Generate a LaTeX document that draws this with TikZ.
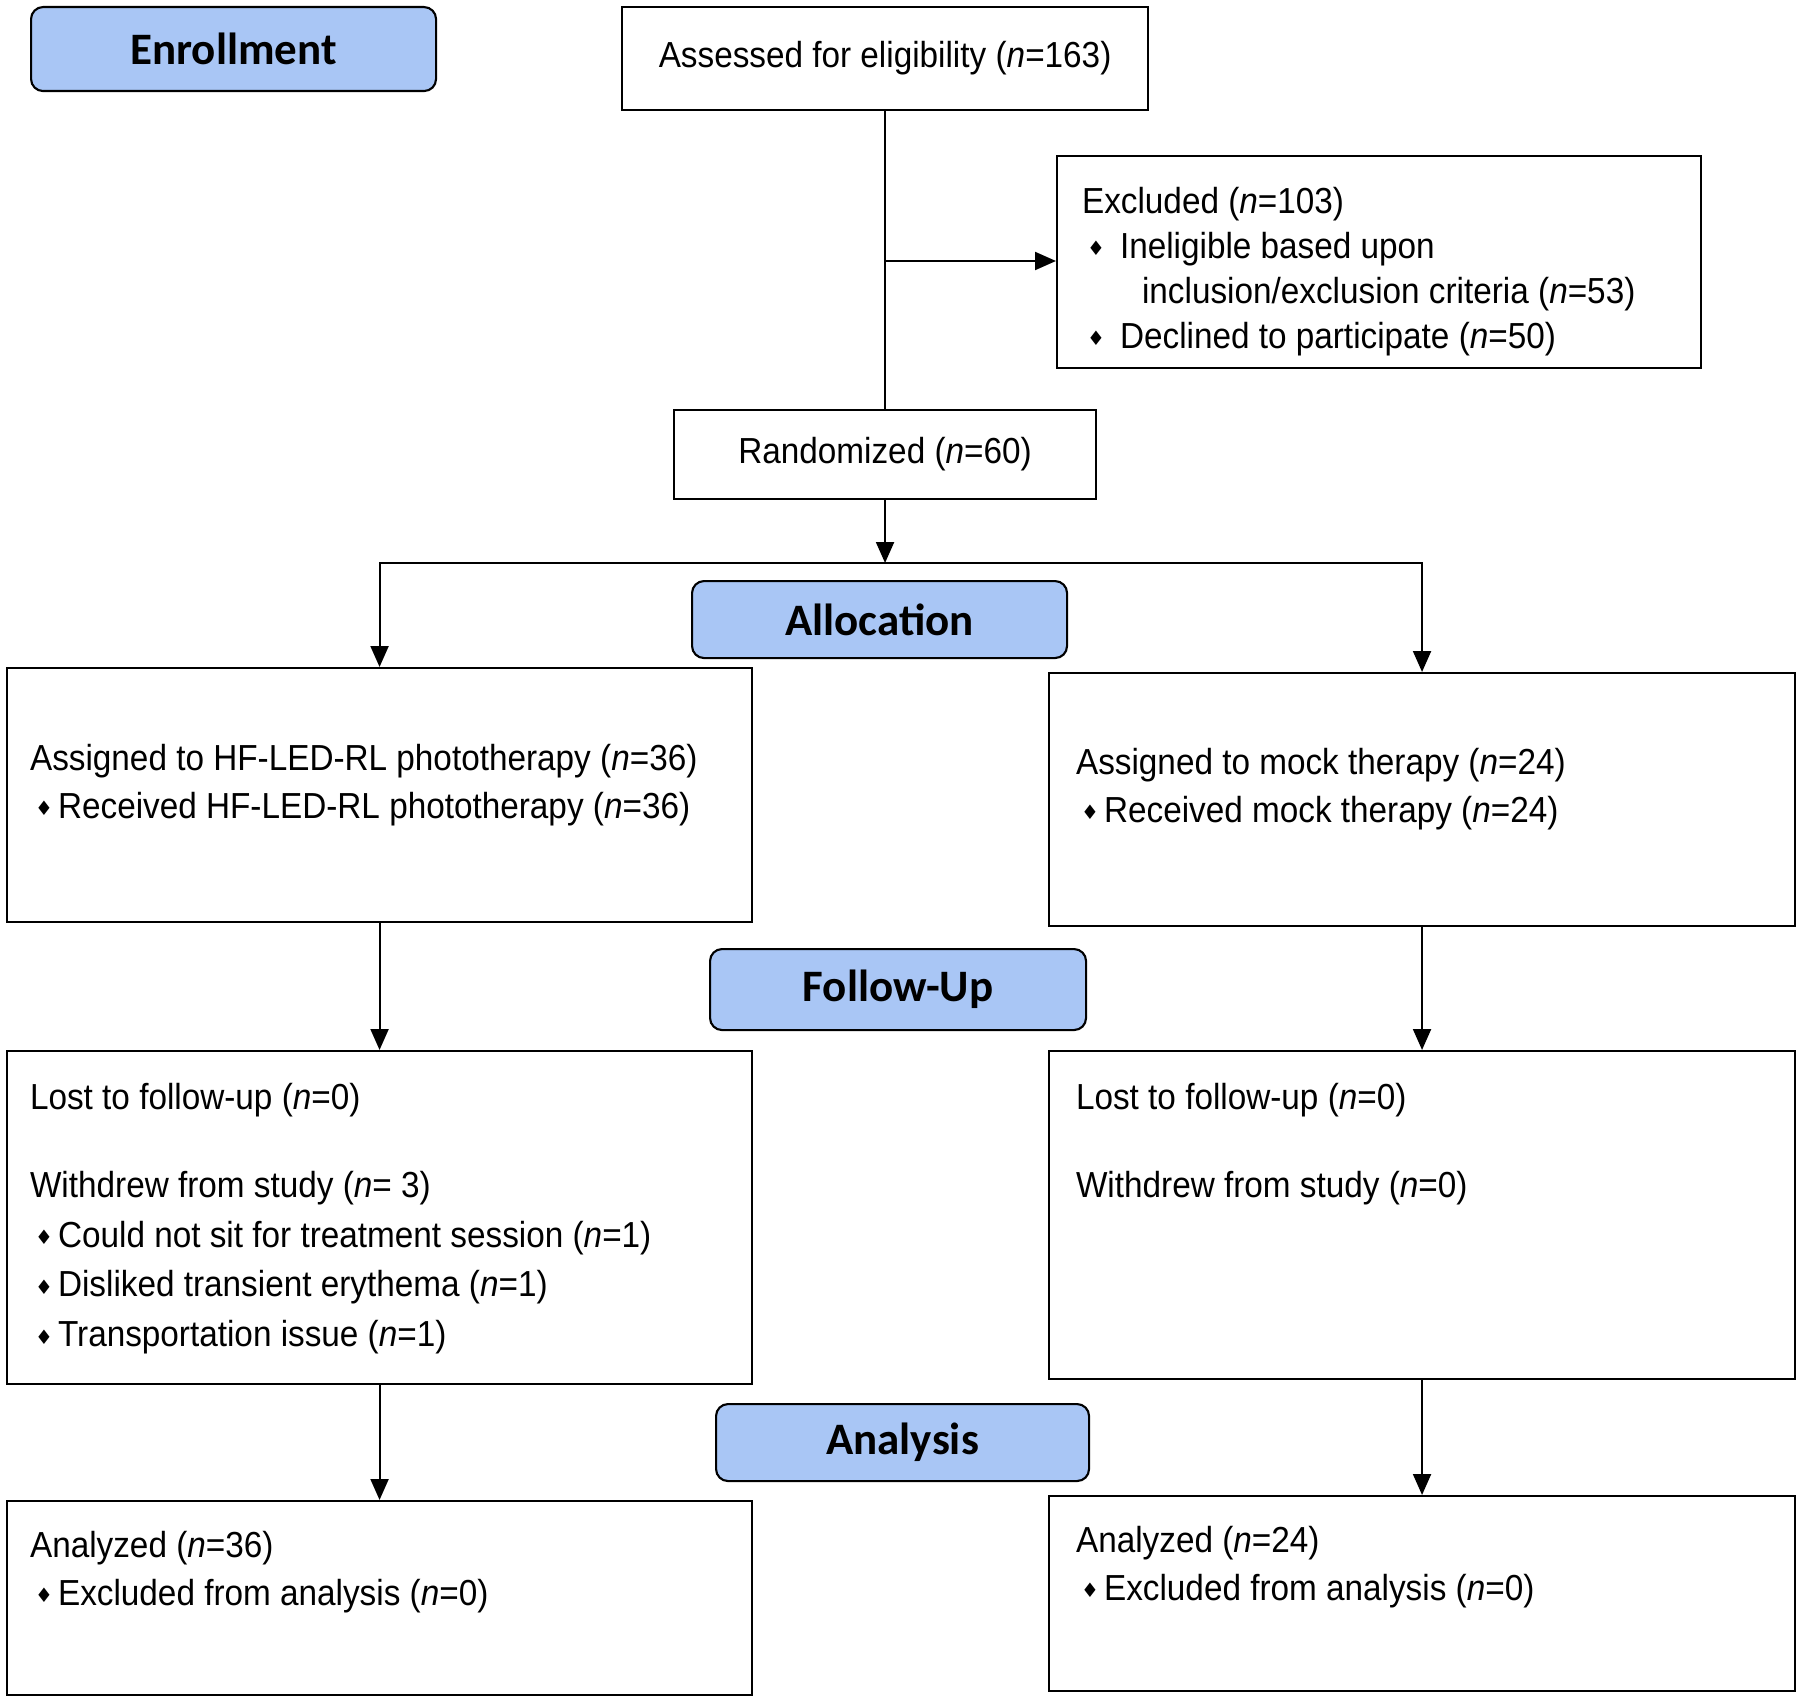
\documentclass[tikz,border=0pt]{standalone}
\usepackage{fontspec}
\setmainfont{Liberation Sans}[FakeStretch=0.92]
\newfontfamily\labelfont{Carlito}
\newfontfamily\symbfont{DejaVu Sans}
\usetikzlibrary{arrows.meta}
\definecolor{labelblue}{RGB}{169,198,245}
\newcommand{\bul}[1][0.28cm]{\makebox[#1][l]{\hspace{0.05cm}\raisebox{0.15ex}{\scalebox{0.55}{\symbfont ♦}}}}
\newcommand{\nn}{\textit{n}}

\begin{document}
\begin{tikzpicture}[line width=0.6pt,
  box/.style = {draw, anchor=north west, inner sep=0pt, font=\fontsize{10.3}{13.6}\selectfont},
  stage/.style = {draw, fill=labelblue, rounded corners=0.12cm, anchor=north west, inner sep=0pt, font=\labelfont\bfseries\fontsize{12.8}{15}\selectfont},
  txt/.style = {anchor=north west, inner sep=0pt, align=left, font=\fontsize{10.3}{13.6}\selectfont},
  arr/.style = {-{Triangle[length=2.1mm,width=1.8mm]}}]
\useasboundingbox (0,0) rectangle (18,-17);

% stage labels
\node[stage, minimum width=4.05cm, minimum height=0.84cm] (enrol) at (0.30,-0.06) {Enrollment};
\node[stage, minimum width=3.75cm, minimum height=0.77cm] (alloc) at (6.91,-5.80) {Allocation};
\node[stage, minimum width=3.76cm, minimum height=0.81cm] (follow) at (7.09,-9.48) {Follow-Up};
\node[stage, minimum width=3.73cm, minimum height=0.77cm] (analysis) at (7.15,-14.03) {Analysis};

% enrollment
\node[box, minimum width=5.26cm, minimum height=1.03cm] (assess) at (6.21,-0.06) {Assessed for eligibility (\nn=163)};
\node[box, minimum width=6.44cm, minimum height=2.12cm] (excl) at (10.56,-1.55) {};
\node[txt, font=\fontsize{10.3}{12.8}\selectfont] (excltxt) at ([shift={(0.25,-0.31)}]excl.north west)
  {Excluded (\nn=103)\\
   \bul[0.38cm]Ineligible based upon\\
   \hspace{0.6cm}inclusion/exclusion criteria (\nn=53)\\
   \bul[0.38cm]Declined to participate (\nn=50)};
\node[box, minimum width=4.22cm, minimum height=0.89cm] (rand) at (6.73,-4.09) {Randomized (\nn=60)};

% allocation
\node[box, minimum width=7.45cm, minimum height=2.54cm] (la) at (0.06,-6.67) {};
\node[txt] (latxt) at ([shift={(0.23,-0.76)}]la.north west)
  {Assigned to HF-LED-RL phototherapy (\nn=36)\\
   \bul Received HF-LED-RL phototherapy (\nn=36)};
\node[box, minimum width=7.46cm, minimum height=2.53cm] (ra) at (10.48,-6.72) {};
\node[txt] (ratxt) at ([shift={(0.27,-0.75)}]ra.north west)
  {Assigned to mock therapy (\nn=24)\\
   \bul Received mock therapy (\nn=24)};

% follow-up
\node[box, minimum width=7.45cm, minimum height=3.33cm] (lf) at (0.06,-10.50) {};
\node[txt] (lftxt) at ([shift={(0.23,-0.32)}]lf.north west)
  {Lost to follow-up (\nn=0)\\[11.4pt]
   Withdrew from study (\nn= 3)\\[0.6pt]
   \bul Could not sit for treatment session (\nn=1)\\[0.6pt]
   \bul Disliked transient erythema (\nn=1)\\[0.6pt]
   \bul Transportation issue (\nn=1)};
\node[box, minimum width=7.46cm, minimum height=3.28cm] (rf) at (10.48,-10.50) {};
\node[txt] (rftxt) at ([shift={(0.27,-0.32)}]rf.north west)
  {Lost to follow-up (\nn=0)\\[11.4pt]
   Withdrew from study (\nn=0)};

% analysis
\node[box, minimum width=7.45cm, minimum height=1.94cm] (lan) at (0.06,-15.00) {};
\node[txt] (lantxt) at ([shift={(0.23,-0.30)}]lan.north west)
  {Analyzed (\nn=36)\\
   \bul Excluded from analysis (\nn=0)};
\node[box, minimum width=7.46cm, minimum height=1.95cm] (ran) at (10.48,-14.95) {};
\node[txt] (rantxt) at ([shift={(0.27,-0.30)}]ran.north west)
  {Analyzed (\nn=24)\\
   \bul Excluded from analysis (\nn=0)};

% connectors
\coordinate (branch) at (assess.south |- 0,-2.61);
\coordinate (split) at (rand.south |- 0,-5.63);
\draw (assess.south) -- (assess.south |- rand.north);
\draw[arr] (branch) -- (branch -| excl.west);
\draw[arr] (rand.south) -- (split);
\draw[arr] (split) -| (la.north);
\draw[arr] (split) -| (ra.north);
\draw[arr] (la) -- (lf);
\draw[arr] (ra) -- (rf);
\draw[arr] (lf) -- (lan);
\draw[arr] (rf) -- (ran);
\end{tikzpicture}
\end{document}
